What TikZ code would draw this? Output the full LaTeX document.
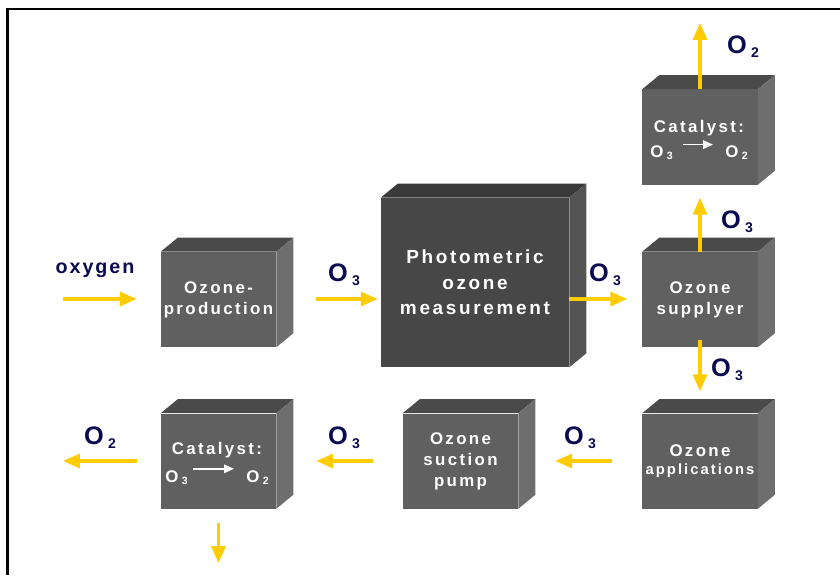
\documentclass[tikz,border=0pt]{standalone}
\usepackage{fontspec}
\setmainfont{Liberation Sans}
\newfontfamily\boxfont[LetterSpace=14]{Liberation Sans}
\newfontfamily\lblfont[LetterSpace=10]{Liberation Sans}
\usetikzlibrary{arrows.meta,calc}

\definecolor{ozgold}{RGB}{255,204,0}
\definecolor{oznavy}{RGB}{10,10,80}
\definecolor{frontgray}{RGB}{96,96,96}
\definecolor{topgray}{RGB}{74,74,74}
\definecolor{sidegray}{RGB}{110,110,110}
\definecolor{bigfront}{RGB}{71,71,71}
\definecolor{bigtop}{RGB}{58,58,58}
\definecolor{bigside}{RGB}{84,84,84}

% lowered index digits (O3, O2)
\newcommand{\bigidx}[1]{\hspace{3pt}\raisebox{-3pt}{\fontsize{10}{10}\selectfont #1}}
\newcommand{\smallidx}[1]{\hspace{2.5pt}\raisebox{-2pt}{\fontsize{7.5}{8}\selectfont #1}}

\tikzset{
  cube/.style={fill=frontgray, text=white, inner sep=0pt, align=center,
    minimum width=2.875cm, minimum height=2.375cm,
    font=\boxfont\bfseries\fontsize{12}{15}\selectfont},
  bigcube/.style={cube, fill=bigfront, minimum width=4.7cm, minimum height=4.225cm,
    font=\boxfont\bfseries\fontsize{13.5}{18}\selectfont},
  cattext/.style={text=white, inner sep=0pt,
    font=\boxfont\bfseries\fontsize{12}{14}\selectfont},
  lbl/.style={text=oznavy, inner sep=0pt,
    font=\lblfont\bfseries\fontsize{18}{20}\selectfont},
  flow/.style={draw=ozgold, line width=2.2pt, -{Triangle[length=12pt,width=10pt]}},
  catarrow/.style={draw=white, line width=1pt, -{Triangle[length=7pt,width=6pt]}}
}

\begin{document}
\begin{tikzpicture}[x=0.025cm, y=-0.025cm]
    \useasboundingbox (0,0) rectangle (840,575);
    \draw[line width=1.6pt] (7.5,575) -- (7.5,9) -- (840,9);

    % front faces
    \node[cube] (prod) at (218.5,299.5) {Ozone-\\production};
    \node[bigcube] (photo) at (475,282.5) {Photometric\\ozone\\measurement};
    \node[cube] (supply) at (700,299.5) {Ozone\\supplyer};
    \node[cube] (cattop) at (700,137) {};
    \node[cube] (appl) at (700,461) {Ozone\\[-2pt]{\fontsize{10.5}{12}\selectfont applications}};
    \node[cube] (pump) at (460.5,461) {Ozone\\suction\\pump};
    \node[cube] (catbot) at (218.5,461) {};

    % top and side faces
    \foreach \n/\tc/\sc in {prod/topgray/sidegray, photo/bigtop/bigside,
        supply/topgray/sidegray, cattop/topgray/sidegray, appl/topgray/sidegray,
        pump/topgray/sidegray, catbot/topgray/sidegray} {
      \fill[\tc] (\n.north west) -- ++(17,-14) -- ($(\n.north east)+(17,-14)$)
        -- (\n.north east) -- cycle;
      \fill[\sc] (\n.north east) -- ++(17,-14) -- ($(\n.south east)+(17,-14)$)
        -- (\n.south east) -- cycle;
    }

    % catalyst texts
    \node[cattext] (cattitle) at (699,128) {Catalyst:};
    \node[cattext, anchor=base west] (catin) at (650,157) {O\smallidx{3}};
    \node[cattext, anchor=base west] (catout) at (725,157) {O\smallidx{2}};
    \draw[catarrow] ([xshift=0.25cm, yshift=0.31cm]catin.base east)
      -- ([xshift=-0.3cm, yshift=0.31cm]catout.base west);
    \node[cattext] (cbtitle) at (217,450) {Catalyst:};
    \node[cattext, anchor=base west] (cbin) at (165,482) {O\smallidx{3}};
    \node[cattext, anchor=base west] (cbout) at (246,482) {O\smallidx{2}};
    \draw[catarrow] ([xshift=0.12cm, yshift=0.33cm]cbin.base east)
      -- ([xshift=-0.3cm, yshift=0.33cm]cbout.base west);

    % flows
    \coordinate (oxin) at (63,299);
    \coordinate (o2top) at (700,23);
    \coordinate (o2left) at (63,461);
    \coordinate (vent) at (218.5,563);

    \draw[flow, shorten >=0.6cm] (oxin) -- (oxin -| prod.west);
    \draw[flow, shorten <=1cm, shorten >=0.075cm] (oxin -| prod.east) -- (oxin -| photo.west);
    \draw[flow, shorten >=0.375cm] (oxin -| photo.east) -- (oxin -| supply.west);
    \draw[flow, shorten >=0.325cm] (supply.north) -- (cattop.south);
    \draw[flow] (cattop.north) -- (o2top);
    \draw[flow, shorten <=-0.175cm, shorten >=0.55cm] (supply.south) -- (appl.north);
    \draw[flow, shorten <=0.75cm, shorten >=0.925cm] (appl.west) -- (pump.east);
    \draw[flow, shorten <=0.75cm, shorten >=1cm] (pump.west) -- (catbot.east);
    \draw[flow, shorten <=0.6cm] (catbot.west) -- (o2left);
    \draw[flow, shorten <=0.35cm] (catbot.south) -- (vent);

    % labels
    \node[lbl, font=\lblfont\bfseries\fontsize{14}{16}\selectfont] (oxy) at (95,270) {oxygen};
    \node[lbl] (l1) at (344,275) {O\bigidx{3}};
    \node[lbl] (l2) at (605,275) {O\bigidx{3}};
    \node[lbl] (l3) at (737,222) {O\bigidx{3}};
    \node[lbl] (l4) at (727,370) {O\bigidx{3}};
    \node[lbl] (l5) at (743,47) {O\bigidx{2}};
    \node[lbl] (l6) at (100,438) {O\bigidx{2}};
    \node[lbl] (l7) at (344,438) {O\bigidx{3}};
    \node[lbl] (l8) at (580,438) {O\bigidx{3}};
\end{tikzpicture}
\end{document}
